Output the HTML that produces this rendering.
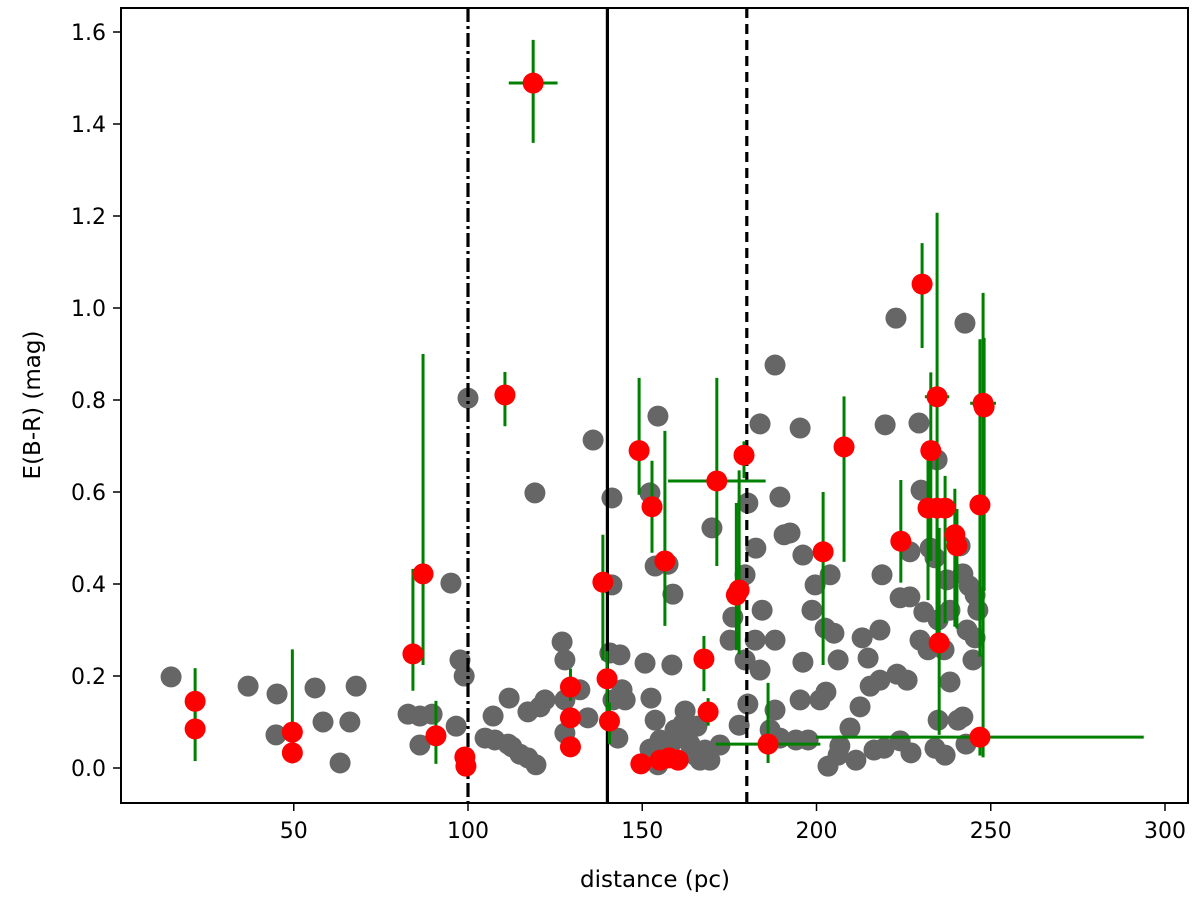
<!DOCTYPE html>
<html><head><meta charset="utf-8">
<style>
html,body{margin:0;padding:0;background:#fff;}
svg{display:block;font-family:"DejaVu Sans","Liberation Sans",sans-serif;}
</style></head>
<body>
<svg id="chart" width="1200" height="900" viewBox="0 0 1200 900" xmlns="http://www.w3.org/2000/svg">
<rect x="0" y="0" width="1200" height="900" fill="#fff"/>
<g id="gray-layer"></g>
<g id="vline-layer"></g>
<g id="red-layer"></g>
<rect x="121" y="8" width="1067" height="795" fill="none" stroke="#000" stroke-width="2"/>
<g id="xticks"></g>
<g id="yticks"></g>
<text x="655" y="887" font-size="23" text-anchor="middle">distance (pc)</text>
<text x="0" y="0" font-size="23" text-anchor="middle" transform="translate(40,405) rotate(-90)">E(B-R) (mag)</text>
</svg>
<script>
const grayX=[14.8,36.9,45.2,44.9,56.1,58.4,63.3,66.1,67.9,82.8,86.2,86.2,89.7,95.1,97.7,98.9,100,96.6,104.9,107.7,111.5,112.6,114.9,117.2,119.5,107.2,111.8,117.2,120.7,122.1,127,127.8,127.8,127.8,132.1,134.4,135.9,119.2,140.7,141.3,141.6,143.6,144.2,143,145.1,150.8,152.5,153.7,154.5,141.3,154.5,152.2,153.7,157.4,158.8,152.2,155.1,158,159.4,160.8,163.7,165.1,166.6,168,169.4,172.3,161.7,158.5,162.3,165.7,170,175.2,176,177.8,179.5,180.3,179.5,180.3,182.6,184.4,189.5,183.8,195.3,188.1,190.7,192.4,188.1,189.5,196.1,199.6,203.9,202.5,205,206.2,213.1,212.5,214.8,218.2,218.8,216.5,219.4,222.8,242.6,219.7,229.4,230,224,226.8,229.7,230.8,232,238.3,237.4,241.2,242,243.8,245.5,245.5,244.9,246.3,240.6,242,242.9,234.9,236.9,224,227.1,223.1,226,234.6,232.6,234,226.8,238.3,243.2,234.9,236.6,234,215.4,218.2,198.7,196.1,201,202.7,203.3,206.2,195.3,194.1,197.6,186.7,182.4,183.8,188.1,209.6,211.3,206.7];
const grayY=[0.198,0.178,0.161,0.072,0.174,0.1,0.011,0.1,0.178,0.117,0.113,0.05,0.117,0.402,0.235,0.2,0.804,0.091,0.065,0.061,0.052,0.046,0.03,0.022,0.007,0.113,0.152,0.122,0.133,0.148,0.274,0.235,0.148,0.076,0.17,0.109,0.713,0.598,0.25,0.398,0.148,0.246,0.17,0.065,0.148,0.228,0.152,0.104,0.007,0.587,0.765,0.598,0.439,0.443,0.378,0.041,0.061,0.05,0.083,0.072,0.052,0.028,0.017,0.039,0.017,0.05,0.096,0.224,0.124,0.091,0.522,0.278,0.328,0.093,0.235,0.139,0.42,0.576,0.478,0.343,0.589,0.748,0.739,0.876,0.507,0.511,0.278,0.065,0.463,0.398,0.42,0.304,0.293,0.235,0.283,0.133,0.239,0.191,0.42,0.039,0.043,0.978,0.967,0.746,0.75,0.604,0.37,0.372,0.278,0.339,0.257,0.343,0.409,0.483,0.422,0.396,0.376,0.283,0.235,0.343,0.104,0.111,0.052,0.104,0.028,0.059,0.033,0.204,0.191,0.67,0.478,0.457,0.47,0.187,0.3,0.322,0.257,0.043,0.178,0.3,0.343,0.23,0.148,0.165,0.004,0.028,0.148,0.061,0.061,0.083,0.278,0.213,0.126,0.087,0.017,0.048];

const redX=[21.7,21.7,49.6,49.6,84.2,87.1,90.8,99.1,99.4,118.7,110.6,129.4,129.4,129.4,138.7,139.9,140.6,149.1,152.8,156.5,171.4,177.8,177.0,179.2,167.7,168.9,186.1,149.6,155.1,157.7,160.3,201.9,207.9,224.2,230.3,232.8,232.0,234.6,236.9,239.7,240.3,235.2,234.6,247.8,248.1,246.9,246.9];
const redY=[0.145,0.085,0.078,0.033,0.248,0.422,0.07,0.024,0.004,1.489,0.811,0.176,0.109,0.046,0.404,0.194,0.102,0.69,0.568,0.45,0.624,0.387,0.376,0.68,0.237,0.122,0.052,0.009,0.017,0.022,0.017,0.47,0.698,0.493,1.052,0.69,0.565,0.565,0.565,0.507,0.483,0.272,0.807,0.793,0.785,0.572,0.067];
const redLo=[0.06,0.07,0.068,0.02,0.08,0.198,0.061,0.02,0.0,0.13,0.068,0.03,0.02,0.02,0.17,0.09,0.05,0.096,0.1,0.141,0.185,0.14,0.12,0.05,0.07,0.03,0.041,0.0,0.0,0.0,0.0,0.246,0.25,0.09,0.139,0.24,0.2,0.3,0.25,0.2,0.18,0.2,0.5,0.77,0.4,0.33,0.04];
const redHi=[0.072,0.06,0.18,0.04,0.185,0.478,0.076,0.02,0.01,0.094,0.05,0.04,0.02,0.02,0.103,0.06,0.04,0.158,0.1,0.283,0.224,0.26,0.2,0.03,0.05,0.03,0.133,0.01,0.01,0.01,0.01,0.13,0.11,0.133,0.089,0.17,0.12,0.1,0.07,0.1,0.08,0.25,0.4,0.24,0.15,0.36,0.0];
const redXErr=[0,0,0,0,0,0,0,0,0,7,0,0,0,0,0,0,0,0,0,0,14,0,0,0,0,0,15,0,0,0,0,0,0,0,0,0,0,0,0,0,0,0,3.5,3.7,0,0,47];

const vLinePos=[100,140,180];
const vLineDash=["14,4,3,4","none","10,6"];
const xTicks=[50,100,150,200,250,300];
const yTicks=[0.0,0.2,0.4,0.6,0.8,1.0,1.2,1.4,1.6];

const NS="http://www.w3.org/2000/svg";
function sx(v){return 468+(v-100)*3.485;}
function sy(v){return 768-v*460;}
function mk(tag,parent){const e=document.createElementNS(NS,tag);parent.appendChild(e);return e;}

const gl=document.getElementById('gray-layer');
grayX.forEach((x,i)=>{
  const c=mk('circle',gl);
  
  
  c.setAttribute('cx',sx(x));c.setAttribute('cy',sy(grayY[i]));c.setAttribute('r',10.5);c.setAttribute('fill','#666');
});

const vl=document.getElementById('vline-layer');
vLinePos.forEach((v,i)=>{
  const l=mk('line',vl);
  
  
  l.setAttribute('x1',sx(v));l.setAttribute('x2',sx(v));l.setAttribute('y1',8);l.setAttribute('y2',803);
  l.setAttribute('stroke','#000');l.setAttribute('stroke-width',3.2);
  if(vLineDash[i]!=='none')l.setAttribute('stroke-dasharray',vLineDash[i]);
});

const rl=document.getElementById('red-layer');
redX.forEach((x,i)=>{
  const y=redY[i];
  const e=mk('line',rl);
  
  
  e.setAttribute('x1',sx(x));e.setAttribute('x2',sx(x));
  e.setAttribute('y1',sy(y+redHi[i]));e.setAttribute('y2',sy(Math.max(0,y-redLo[i])));
  e.setAttribute('stroke','#008000');e.setAttribute('stroke-width',3);
  if(redXErr[i]>0){
    const h=mk('line',rl);
    
    
    h.setAttribute('x1',sx(x-redXErr[i]));h.setAttribute('x2',sx(x+redXErr[i]));
    h.setAttribute('y1',sy(y));h.setAttribute('y2',sy(y));
    h.setAttribute('stroke','#008000');h.setAttribute('stroke-width',3);
  }
});
redX.forEach((x,i)=>{
  const c=mk('circle',rl);
  
  
  c.setAttribute('cx',sx(x));c.setAttribute('cy',sy(redY[i]));c.setAttribute('r',10.5);c.setAttribute('fill','#ff0000');
});

const xt=document.getElementById('xticks');
xTicks.forEach(v=>{
  const l=mk('line',xt);
  
  
  l.setAttribute('x1',sx(v));l.setAttribute('x2',sx(v));l.setAttribute('y1',803);l.setAttribute('y2',811);
  l.setAttribute('stroke','#000');l.setAttribute('stroke-width',1.5);
  const t=mk('text',xt);
  
  
  t.setAttribute('x',sx(v));t.setAttribute('y',838);t.setAttribute('font-size',22);t.setAttribute('text-anchor','middle');
  t.textContent=v;
});
const yt=document.getElementById('yticks');
yTicks.forEach(v=>{
  const l=mk('line',yt);
  
  
  l.setAttribute('x1',113);l.setAttribute('x2',121);l.setAttribute('y1',sy(v));l.setAttribute('y2',sy(v));
  l.setAttribute('stroke','#000');l.setAttribute('stroke-width',1.5);
  const t=mk('text',yt);
  
  
  t.setAttribute('x',106);t.setAttribute('y',sy(v)+8);t.setAttribute('font-size',22);t.setAttribute('text-anchor','end');
  t.textContent=v.toFixed(1);
});
</script>
</body></html>
